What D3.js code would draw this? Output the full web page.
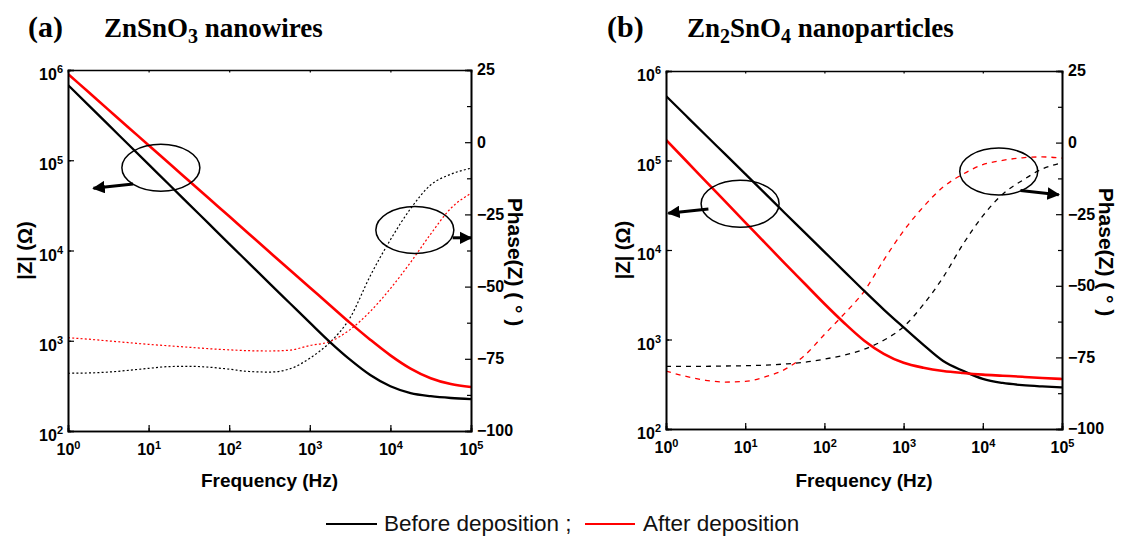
<!DOCTYPE html>
<html>
<head>
<meta charset="utf-8">
<script src="https://cdn.jsdelivr.net/npm/d3@7"></script>
<style>
  body { margin: 0; background: #fff; }
  svg { display: block; }
</style>
</head>
<body>
<svg id="chart" width="1124" height="538"></svg>
<script>
// Impedance spectra: |Z| (left, log) and phase (right) versus frequency.
const freq = [1, 1.78, 3.16, 5.62, 10, 17.8, 31.6, 56.2, 100, 178, 316, 562,
              1000, 1780, 3160, 5620, 10000, 17800, 31600, 56200, 100000];

// (a) ZnSnO3 nanowires
const zBeforeA = [682000, 411000, 248000, 149300, 89900, 54200, 32700, 19700, 11860, 7160, 4330, 2620,
                  1585, 966, 617, 417, 313, 263, 243, 232, 226];
const zAfterA  = [904000, 573000, 364000, 231000, 146900, 93100, 59200, 37600, 23900, 15140, 9620, 6110,
                  3890, 2480, 1578, 1028, 689, 491, 384, 331, 307];
const phBeforeA = [-80.0, -79.9, -79.6, -79.0, -78.3, -77.7, -77.6, -77.9, -78.6, -79.4, -79.6, -78.5,
                   -74.8, -69.3, -60.8, -46.3, -33.8, -23.0, -14.8, -11.1, -9.0];
const phAfterA  = [-67.7, -68.2, -68.8, -69.4, -70.0, -70.5, -71.0, -71.5, -71.9, -72.2, -72.3, -72.0,
                   -70.4, -69.0, -64.9, -58.6, -50.7, -41.6, -31.8, -22.9, -17.7];

// (b) Zn2SnO4 nanoparticles
const zBeforeB = [526000, 318000, 192800, 116900, 70800, 42900, 25900, 15740, 9530, 5780, 3510, 2160,
                  1365, 871, 575, 447, 363, 327, 309, 299, 292];
const zAfterB  = [169800, 100000, 58900, 34700, 20400, 12020, 7080, 4220, 2510, 1531, 977, 692,
                  550, 484, 445, 422, 405, 394, 383, 372, 362];
const phBeforeB = [-78.1, -78.1, -78.1, -78.0, -77.9, -77.7, -77.3, -76.7, -75.6, -74.2, -72.2, -69.0,
                   -64.3, -56.5, -47.0, -35.5, -25.6, -18.0, -13.2, -9.2, -7.1];
const phAfterB  = [-79.8, -81.6, -83.0, -83.6, -83.4, -81.8, -79.2, -74.3, -67.0, -59.8, -52.0, -41.0,
                   -30.8, -22.4, -15.5, -11.0, -7.7, -6.2, -5.3, -5.0, -5.4];

// Axis ticks
const freqTicks = [1, 10, 100, 1000, 10000, 100000];
const zTicks = [100, 1000, 10000, 100000, 1000000];
const phaseTicks = [25, 0, -25, -50, -75, -100];
const phaseMinor = [12.5, -12.5, -37.5, -62.5, -87.5];

// Legend entries
const seriesNames = ["Before deposition ;", "After deposition"];
const seriesColors = ["#000000", "#ff0000"];

// Callout ellipses with arrows pointing to the axis they belong to
const calloutsA = [
  { axis: "z", cx: 14.2, cy: 82600, from: [6.43, 54600], to: [2.07, 48900] },
  { axis: "phase", cx: 20100, cy: -30.4, from: [59200, -33.1], to: [100000, -33.1] }
];
const calloutsB = [
  { axis: "z", cx: 8.62, cy: 32800, from: [3.43, 28800], to: [1.07, 25800] },
  { axis: "phase", cx: 15900, cy: -10.1, from: [29900, -16.7], to: [91000, -18.2] }
];

const panels = [
  { key: "a", tag: "(a)", tagX: 28, titleX: 104,
    title: [["ZnSnO", false], ["3", true], [" nanowires", false]],
    frame: { left: 68, right: 471, top: 70, bottom: 431 },
    z: [zBeforeA, zAfterA], ph: [phBeforeA, phAfterA], dash: "2,2.2", phWidth: 1.2,
    callouts: calloutsA, phaseLabelY: 262 },
  { key: "b", tag: "(b)", tagX: 607, titleX: 687,
    title: [["Zn", false], ["2", true], ["SnO", false], ["4", true], [" nanoparticles", false]],
    frame: { left: 666, right: 1062, top: 71, bottom: 429 },
    z: [zBeforeB, zAfterB], ph: [phBeforeB, phAfterB], dash: "5,5", phWidth: 1.3,
    callouts: calloutsB, phaseLabelY: 252 }
];

const svg = d3.select("#chart");
const sans = "'Liberation Sans', Arial, sans-serif";
const serif = "'Liberation Serif', 'Times New Roman', serif";

const defs = svg.append("defs");
defs.append("marker")
  .attr("id", "arrowHead")
  .attr("viewBox", "0 0 10 10")
  .attr("refX", 9).attr("refY", 5)
  .attr("markerWidth", 4.2).attr("markerHeight", 4.2)
  .attr("markerUnits", "strokeWidth")
  .attr("orient", "auto")
  .append("path").attr("d", "M0,0 L10,5 L0,10 Z").attr("fill", "#000");

function powerLabel(sel, exponentOf) {
  sel.selectAll(".tick text").each(function(d) {
    const t = d3.select(this);
    t.text(null);
    t.append("tspan").text("10");
    t.append("tspan").attr("dy", "-0.62em").attr("font-size", "11px").text(exponentOf(d));
  });
}

panels.forEach(p => {
  const f = p.frame;
  const x = d3.scaleLog().domain([1, 1e5]).range([f.left, f.right]);
  const y = d3.scaleLog().domain([100, 1e6]).range([f.bottom, f.top]);
  const yp = d3.scaleLinear().domain([-100, 25]).range([f.bottom, f.top]);
  const g = svg.append("g").attr("class", "panel-" + p.key);

  // Titles
  g.append("text").attr("x", p.tagX).attr("y", 37)
    .attr("font-family", serif).attr("font-weight", "bold").attr("font-size", "30px")
    .text(p.tag);
  const tt = g.append("text").attr("x", p.titleX).attr("y", 37)
    .attr("font-family", serif).attr("font-weight", "bold").attr("font-size", "27px");
  let shifted = false;
  p.title.forEach(([s, sub]) => {
    const ts = tt.append("tspan").text(s);
    if (sub && !shifted) { ts.attr("dy", "6").attr("font-size", "20px"); shifted = true; }
    else if (!sub && shifted) { ts.attr("dy", "-6"); shifted = false; }
    else if (sub) { ts.attr("font-size", "20px"); }
  });

  const clipId = "clip-" + p.key;
  defs.append("clipPath").attr("id", clipId).append("rect")
    .attr("x", f.left).attr("y", f.top).attr("width", f.right - f.left).attr("height", f.bottom - f.top);

  const plot = g.append("g").attr("clip-path", `url(#${clipId})`);
  const pts = (vals, ys) => freq.map((fr, i) => [x(fr), ys(vals[i])]);
  const line = d3.line().curve(d3.curveMonotoneX);

  // Phase curves (right axis)
  p.ph.forEach((vals, i) => {
    plot.append("path").attr("d", line(pts(vals, yp)))
      .attr("fill", "none").attr("stroke", seriesColors[i])
      .attr("stroke-width", p.phWidth).attr("stroke-dasharray", p.dash);
  });
  // |Z| curves (left axis)
  p.z.forEach((vals, i) => {
    plot.append("path").attr("d", line(pts(vals, y)))
      .attr("fill", "none").attr("stroke", seriesColors[i])
      .attr("stroke-width", i === 0 ? 2.3 : 2.6);
  });

  // Callouts
  p.callouts.forEach(c => {
    const yy = c.axis === "z" ? y : yp;
    g.append("ellipse").attr("cx", x(c.cx)).attr("cy", yy(c.cy))
      .attr("rx", 39).attr("ry", 23.5)
      .attr("fill", "none").attr("stroke", "#000").attr("stroke-width", 1.5);
    g.append("line")
      .attr("x1", x(c.from[0])).attr("y1", yy(c.from[1]))
      .attr("x2", x(c.to[0])).attr("y2", yy(c.to[1]))
      .attr("stroke", "#000").attr("stroke-width", 3)
      .attr("marker-end", "url(#arrowHead)");
  });

  // Axes: ticks pointing inward
  const axStyle = sel => {
    sel.selectAll("path").attr("stroke", "#000").attr("stroke-width", 1.6);
    sel.selectAll("line").attr("stroke", "#000").attr("stroke-width", 1.2);
    sel.selectAll("text").attr("font-family", sans).attr("font-weight", "bold")
      .attr("font-size", "16px").attr("fill", "#000");
  };

  // bottom
  g.append("g").attr("transform", `translate(0,${f.bottom})`)
    .call(d3.axisBottom(x).ticks(5).tickSize(-3).tickFormat(() => ""))
    .call(axStyle);
  const bx = g.append("g").attr("transform", `translate(0,${f.bottom})`)
    .call(d3.axisBottom(x).tickValues(freqTicks).tickSize(-6).tickPadding(13))
    .call(axStyle);
  powerLabel(bx, d => Math.round(Math.log10(d)));
  // top
  g.append("g").attr("transform", `translate(0,${f.top})`)
    .call(d3.axisTop(x).ticks(5).tickSize(-2.5).tickFormat(() => ""))
    .call(axStyle);
  // left
  g.append("g").attr("transform", `translate(${f.left},0)`)
    .call(d3.axisLeft(y).ticks(4).tickSize(-3).tickFormat(() => ""))
    .call(axStyle);
  const ly = g.append("g").attr("transform", `translate(${f.left},0)`)
    .call(d3.axisLeft(y).tickValues(zTicks).tickSize(-6).tickPadding(5))
    .call(axStyle);
  powerLabel(ly, d => Math.round(Math.log10(d)));
  ly.selectAll(".tick text").attr("dy", "0.6em");
  // right
  g.append("g").attr("transform", `translate(${f.right},0)`)
    .call(d3.axisRight(yp).tickValues(phaseMinor).tickSize(-4).tickFormat(() => ""))
    .call(axStyle);
  g.append("g").attr("transform", `translate(${f.right},0)`)
    .call(d3.axisRight(yp).tickValues(phaseTicks).tickSize(-6).tickPadding(6).tickFormat(d3.format("d")))
    .call(axStyle)
    .selectAll(".tick text").attr("dy", "0.3em");

  // Axis titles
  g.append("text")
    .attr("x", (f.left + f.right) / 2).attr("y", 487)
    .attr("text-anchor", "middle")
    .attr("font-family", sans).attr("font-weight", "bold").attr("font-size", "19px")
    .text("Frequency (Hz)");
  g.append("text")
    .attr("transform", `translate(${f.left - 36},${(f.top + f.bottom) / 2}) rotate(-90)`)
    .attr("text-anchor", "middle")
    .attr("font-family", sans).attr("font-weight", "bold").attr("font-size", "20px")
    .text("|Z| (\u03A9)");
  g.append("text")
    .attr("transform", `translate(${f.right + 37},${p.phaseLabelY}) rotate(90)`)
    .attr("text-anchor", "middle")
    .attr("font-family", sans).attr("font-weight", "bold").attr("font-size", "21px")
    .text("Phase(Z) ( \u00B0 )");
});

// Legend
const legend = svg.append("g");
const legendItems = [
  { x1: 326, x2: 377, tx: 384 },
  { x1: 585, x2: 635, tx: 643 }
];
legendItems.forEach((it, i) => {
  legend.append("line").attr("x1", it.x1).attr("x2", it.x2).attr("y1", 524).attr("y2", 524)
    .attr("stroke", seriesColors[i]).attr("stroke-width", 2);
  legend.append("text").attr("x", it.tx).attr("y", 531)
    .attr("font-family", sans).attr("font-size", "22.5px").attr("fill", "#111")
    .text(seriesNames[i]);
});
</script>
</body>
</html>
